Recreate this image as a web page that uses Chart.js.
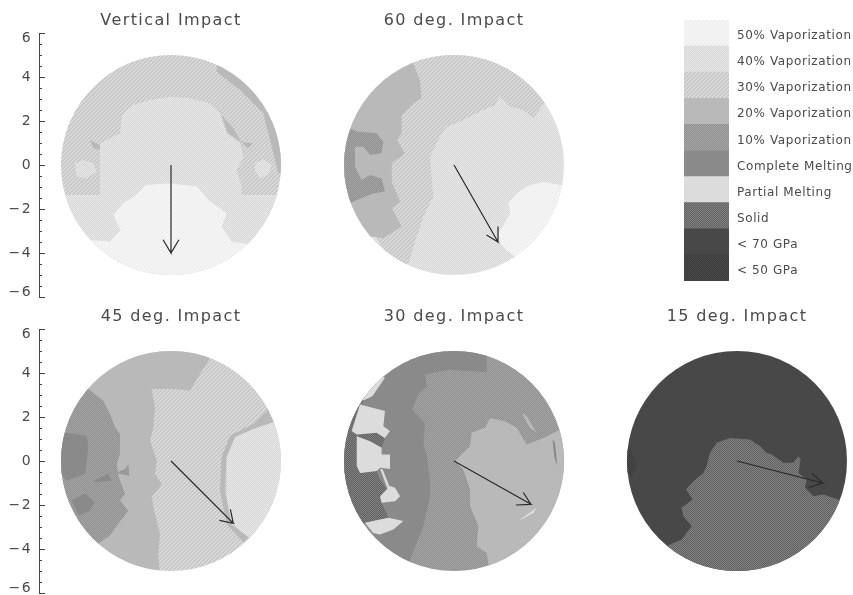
<!DOCTYPE html>
<html>
<head>
<meta charset="utf-8">
<title>Impact angle panels</title>
<script src="https://cdn.jsdelivr.net/npm/chart.js@4"></script>
<style>
  html, body { margin: 0; background: #fff; overflow: hidden; width: 853px; height: 595px; }
  canvas { position: absolute; }
</style>
</head>
<body>
<script>
// legend
const legendLabels = ['50% Vaporization', '40% Vaporization', '30% Vaporization', '20% Vaporization', '10% Vaporization',
  'Complete Melting', 'Partial Melting', 'Solid', '< 70 GPa', '< 50 GPa'];
const legendValues = [1, 1, 1, 1, 1, 1, 1, 1, 1, 1];
const majorTicks = [-6, -4, -2, 0, 2, 4, 6];

// region outlines in impact-plane units, clipped to the radius 5 disk when drawn
const fullPlane = [[-6, -6], [6, -6], [6, 6], [-6, 6]];

// vertical impact
const vertCrescent = [[2.08, 4.55], [2.3, 5.3], [4, 4], [5.5, 1], [5.5, -0.4], [4.88, -0.38], [4.58, 0.83], [4.2, 2.35], [3.14, 3.41], [2.08, 4.24]];
const vertBlob40 = [[-3.23, 0.98], [-2.32, 1.44], [-2.24, 2.2], [-1.71, 2.73], [-0.95, 2.95], [-0.05, 3.1], [0.86, 3.03], [1.77, 2.8], [2.23, 2.35], [2.38, 1.89], [2.53, 1.44], [3.14, 0.98], [3.29, 0.38], [2.98, -0.23], [3.21, -0.98], [3.21, -1.36], [5.5, -1.36], [5.5, -5.5], [-5.5, -5.5], [-5.5, -1.36], [-3.23, -1.36]];
const vertLeftSpot = [[-4.36, 0.08], [-3.98, 0.23], [-3.53, 0.08], [-3.38, -0.3], [-3.83, -0.61], [-4.29, -0.53]];
const vertRightSpot = [[3.82, 0.08], [4.2, 0.26], [4.58, 0], [4.42, -0.45], [4.05, -0.61], [3.82, -0.3]];
const vertPatchL = [[-3.68, 1.14], [-3.23, 0.91], [-3.23, 0.68], [-3.53, 0.76]];
const vertPatchR = [[3.21, 1.06], [3.74, 0.98], [3.5, 0.76]];
const vertPatchU = [[2.3, 2.27], [2.83, 1.67], [3.21, 1.02], [2.6, 1.44], [2.41, 1.89]];
const vertBlob50 = [[-2.62, -2.27], [-2.17, -1.74], [-1.71, -1.44], [-1.11, -0.91], [-0.05, -0.83], [1.17, -0.98], [1.7, -1.59], [2.53, -2.2], [2.3, -2.8], [2.76, -3.48], [3.74, -3.64], [5, -5.5], [-5, -5.5], [-3.68, -3.41], [-2.77, -3.48], [-2.29, -2.95]];
const vertArrow = [[0, 0], [0, -4], [-0.36, -3.4], [0, -4], [0.36, -3.4]];

// 60 deg
const deg60Hatch = [[-2.08, -4.47], [-1.7, -3.26], [-1.39, -2.35], [-0.94, -1.44], [-1.02, -0.53], [-1.09, 0.38], [-0.64, 1.29], [-0.33, 1.74], [0.42, 2.05], [1.03, 2.35], [1.86, 2.73], [2.09, 3.11], [2.55, 2.65], [3.15, 2.5], [3.61, 2.12], [3.98, 2.65], [4.21, 2.95], [5, 5], [-5, 5.5], [-5.5, 0], [-2.4, -5.2]];
const deg60Solid = [[-1.85, 4.62], [-1.55, 3.86], [-1.47, 3.03], [-1.85, 2.8], [-2.38, 2.27], [-2.38, 1.44], [-2.6, 1.14], [-2.23, 0.53], [-2.83, 0.08], [-2.83, -0.76], [-2.45, -1.67], [-2.83, -1.97], [-2.38, -2.8], [-3.21, -3.33], [-3.67, -3.26], [-5.5, -3.3], [-6, 0], [-4, 5], [-1.85, 5.5]];
const deg60Ring = [[-4.73, 1.67], [-4.42, 1.52], [-3.52, 1.44], [-3.21, 1.06], [-3.29, 0.53], [-3.82, 0.45], [-4.12, 0.83], [-4.5, 0.83], [-4.5, -0.08], [-4.2, -0.68], [-3.82, -0.45], [-3.29, -0.61], [-3.14, -1.21], [-3.67, -1.29], [-4.42, -1.59], [-4.73, -1.74], [-5.5, 0]];
const deg60Blob50 = [[2.47, -1.74], [2.85, -1.29], [3.3, -0.98], [4.06, -0.76], [4.82, -0.91], [5.5, -1], [5, -4], [3.2, -4.5], [2.85, -4.24], [2.39, -3.86], [2.02, -3.48], [2.02, -3.11], [2.55, -2.2]];
const deg60Arrow = [[0, 0], [2, -3.5], [1.48, -3.18], [2, -3.5], [2, -2.8]];

// 45 deg
const deg45Solid = [[1.77, 4.64], [1.32, 3.95], [0.86, 3.2], [0.11, 3.27], [-0.88, 3.27], [-0.73, 2.44], [-0.8, 1.53], [-0.95, 0.92], [-0.65, 0.02], [-0.73, -0.59], [-0.42, -1.05], [-0.88, -1.65], [-0.73, -2.41], [-0.5, -3.32], [-0.58, -4.23], [-0.5, -5.2], [-6, -5.5], [-6, 5.5], [2, 5.5]];
const deg45Ring = [[-3.76, 3.27], [-3.08, 2.74], [-2.77, 2.14], [-2.55, 1.53], [-2.32, 1.23], [-2.32, 0.32], [-2.47, -0.14], [-2.39, -0.67], [-2.09, -1.5], [-2.32, -1.8], [-1.94, -2.26], [-2.47, -2.94], [-2.77, -3.39], [-3.23, -3.7], [-5, -5], [-6, 0], [-5, 3.5]];
const deg45MeltA = [[-4.89, 1.3], [-3.83, 1.15], [-3.76, 0.62], [-3.91, -0.59], [-4.74, -0.89], [-5.5, 0], [-5.5, 1.3]];
const deg45MeltB = [[-3.53, -0.89], [-2.85, -0.59], [-2.7, -0.89], [-3.38, -0.97]];
const deg45MeltC = [[-4.52, -1.8], [-3.91, -1.47], [-3.47, -1.88], [-3.7, -2.26], [-4.21, -2.48]];
const deg45Speck = [[-2.47, -0.52], [-2.09, -0.36], [-1.94, -0.17], [-1.89, -0.67], [-2.32, -0.59]];
const deg45Strip = [[4.42, 2.36], [4.65, 1.76], [3.74, 1.45], [2.91, 1.08], [2.53, 0.17], [2.45, -1.35], [2.76, -2.86], [3.52, -3.47], [3.29, -3.7], [2.53, -2.86], [2.23, -1.35], [2.3, 0.17], [2.68, 1.15], [3.74, 1.68]];
const deg45Blob40 = [[2.91, 1.08], [3.74, 1.45], [4.65, 1.76], [5.5, 1.9], [5.5, -3], [3.52, -3.47], [2.76, -2.86], [2.5, -1.5], [2.53, 0.17]];
const deg45Arrow = [[0, 0], [2.83, -2.83], [2.2, -2.7], [2.83, -2.83], [2.7, -2.2]];

// 30 deg
const deg30Melt = [[1.48, 5.5], [1.48, 4.05], [-0.2, 4.15], [-1.32, 3.93], [-1.24, 3.4], [-1.62, 3.02], [-1.92, 2.34], [-1.32, 1.73], [-1.39, 0.83], [-1.24, 0.22], [-1.09, -0.84], [-1.09, -1.6], [-1.39, -2.96], [-2, -4.48], [-2.2, -5.5], [-6, -5.5], [-6, 5.5]];
const deg30Solid = [[0.05, 0], [0.42, 0.37], [0.73, 0.67], [0.8, 1.28], [1.41, 1.51], [1.64, 1.96], [2.32, 1.81], [2.85, 1.51], [3.3, 0.75], [4.06, 1.05], [4.82, 1.43], [5.6, 1.7], [5.6, -3], [3, -5.5], [1.5, -5.5], [1.56, -4.63], [1.48, -4.17], [1.03, -3.87], [1.11, -2.96], [0.73, -2.05], [0.73, -1.3], [0.42, -0.39]];
const deg30SliverA = [[3.08, 2.19], [3.3, 2.04], [3.76, 1.28], [3.45, 1.51]];
const deg30SliverB = [[4.48, 0.98], [4.59, 0.83], [4.7, -0.23], [4.55, 0.22]];
const deg30Streak = [[3, -2.66], [3.76, -2.13], [3.61, -2.36], [3.06, -2.66]];
const deg30Core = [[-3.89, 2.87], [-4.27, 2.57], [-4.65, 1.36], [-4.42, 1.2], [-3.52, 1.28], [-3.14, 1.05], [-3.29, 0.6], [-3.82, 0.9], [-4.42, 1.13], [-4.42, -0.23], [-4.27, -0.54], [-3.52, -0.46], [-3.36, -0.84], [-2.98, -1.37], [-3.36, -1.6], [-3.29, -1.9], [-2.98, -2.58], [-4.05, -2.81], [-5, -3.5], [-6, 0], [-5, 3]];
const deg30PartA = [[-3.14, 3.78], [-3.7, 2.95], [-4.1, 2.75], [-5, 3], [-4, 4.5]];
const deg30PartB = [[-4.27, 2.57], [-3.14, 2.27], [-3.21, 1.58], [-2.91, 1.36], [-3.14, 1.05], [-3.52, 1.28], [-4.42, 1.2], [-4.65, 1.36]];
const deg30PartC = [[-4.42, 1.13], [-3.82, 0.9], [-3.29, 0.6], [-3.29, 0.3], [-2.91, 0.3], [-2.91, -0.36], [-3.36, -0.31], [-3.52, -0.46], [-4.27, -0.54], [-4.42, -0.23]];
const deg30PartArc = [[-3.36, -0.35], [-3.24, -0.39], [-2.91, -1.22], [-2.98, -1.37]];
const deg30PartD = [[-3.36, -1.6], [-2.91, -1.14], [-2.68, -1.22], [-2.45, -1.6], [-2.68, -1.83], [-3.29, -1.9]];
const deg30PartE = [[-4.05, -2.81], [-2.98, -2.58], [-2.3, -2.73], [-2.76, -3.11], [-3.36, -3.34], [-3.67, -3.27]];
const deg30Arrow = [[0, 0], [3.5, -1.97], [2.82, -2], [3.5, -1.97], [3.15, -1.43]];

// 15 deg
const deg15Core = [[-3.05, -3.8], [-2.52, -3.57], [-2.06, -2.96], [-2.44, -2.51], [-2.52, -2.13], [-2.02, -1.75], [-2.32, -1.3], [-1.98, -0.92], [-1.53, -0.54], [-1.38, -0.23], [-1.23, 0.37], [-0.92, 0.83], [-0.32, 1.05], [0.59, 0.98], [1.05, 0.67], [1.35, 0.37], [1.58, 0.3], [2.11, -0.08], [2.56, -0.08], [2.79, 0.22], [2.89, 0.07], [2.79, -0.54], [3.17, -0.84], [3.09, -1.22], [3.47, -1.6], [3.92, -1.52], [4.61, -1.75], [5.6, -2], [4, -5.5], [-3, -5.5], [-4, -4.2]];
const deg15Edge = [[-4.86, 0.67], [-4.56, -0.23], [-4.79, -0.69], [-5.5, -0.1]];
const deg15Arrow = [[0, 0], [3.9, -1], [3.4, -0.55], [3.9, -1], [3.27, -1.2]];

// 4x4 tile, second colour laid on as diagonal hatch or as dots
function makeFill(base, alt, kind) {
  const tile = document.createElement('canvas');
  tile.width = tile.height = 4;
  const t = tile.getContext('2d');
  t.fillStyle = base;
  t.fillRect(0, 0, 4, 4);
  if (kind) {
    t.fillStyle = alt;
    for (let y = 0; y < 4; y++) {
      for (let x = 0; x < 4; x++) {
        const on = kind === 'hatch' ? (x + y) % 4 < 2 : (x + y) % 2 === 0;
        if (on) t.fillRect(x, y, 1, 1);
      }
    }
  }
  return t.createPattern(tile, 'repeat');
}

const fills = {
  v50: makeFill('#eeeeee', '#f6f6f6', 'hatch'),
  v40: makeFill('#d6d6d6', '#e8e8e8', 'dot'),
  v30: makeFill('#c6c6c6', '#dadada', 'hatch'),
  v20: makeFill('#b9b9b9'),
  v10: makeFill('#8f8f8f', '#a6a6a6', 'dot'),
  melt: makeFill('#8a8a8a'),
  partial: makeFill('#dcdcdc'),
  solid: makeFill('#626262', '#808080', 'dot'),
  gpa70: makeFill('#484848'),
  gpa50: makeFill('#383838', '#4c4c4c', 'dot')
};
const legendFills = [fills.v50, fills.v40, fills.v30, fills.v20, fills.v10, fills.melt, fills.partial, fills.solid, fills.gpa70, fills.gpa50];

const asPoints = pts => pts.map(p => ({ x: p[0], y: p[1] }));

// spaced out lettering, the original uses a wide plotter font
const spacing = px => ({
  id: 'spacing',
  beforeDraw: chart => { chart.ctx.letterSpacing = px; }
});

// move y axis labels a little, the end labels of the original sit inside the axis
const nudgeLabels = shift => ({
  id: 'nudgeLabels',
  beforeDraw(chart) {
    const yScale = chart.scales.y;
    if (!yScale.options.display) return;
    yScale.getLabelItems(chart.chartArea).forEach(item => {
      item.options.translation[1] += shift(item.label);
    });
  }
});

// keep everything inside the target disk
const diskClip = {
  id: 'diskClip',
  beforeDatasetsDraw(chart) {
    const { x, y } = chart.scales;
    const ctx = chart.ctx;
    ctx.save();
    ctx.beginPath();
    ctx.arc(x.getPixelForValue(0), y.getPixelForValue(0), Math.abs(x.getPixelForValue(5) - x.getPixelForValue(0)), 0, Math.PI * 2);
    ctx.clip();
  },
  afterDatasetsDraw(chart) { chart.ctx.restore(); }
};

// ticks point into the plot
const inwardTicks = {
  id: 'inwardTicks',
  afterDraw(chart) {
    const yScale = chart.scales.y;
    if (!yScale.options.display) return;
    const ctx = chart.ctx;
    ctx.save();
    ctx.strokeStyle = '#444';
    ctx.lineWidth = 1;
    yScale.ticks.forEach(tick => {
      const py = Math.round(yScale.getPixelForValue(tick.value)) + 0.5;
      const len = majorTicks.includes(tick.value) ? 6 : 3;
      ctx.beginPath();
      ctx.moveTo(chart.chartArea.left, py);
      ctx.lineTo(chart.chartArea.left + len, py);
      ctx.stroke();
    });
    ctx.restore();
  }
};

function addCanvas(left, top, width, height) {
  const canvas = document.createElement('canvas');
  canvas.width = width;
  canvas.height = height;
  canvas.style.left = left + 'px';
  canvas.style.top = top + 'px';
  document.body.appendChild(canvas);
  return canvas.getContext('2d');
}

function drawPanel(left, top, title, withAxis, regions, arrow) {
  const width = withAxis ? 342 : 264;
  const ctx = addCanvas(left, top, width, 309);
  const areas = regions.map((r, i) => ({
    data: asPoints(r[0]),
    showLine: true,
    fill: 'shape',
    tension: 0,
    backgroundColor: r[1],
    borderWidth: 0,
    pointRadius: 0,
    order: regions.length - i + 1
  }));
  areas.push({
    data: asPoints(arrow),
    showLine: true,
    fill: false,
    tension: 0,
    borderColor: '#2a2a2a',
    borderWidth: 1.2,
    pointRadius: 0,
    order: 0
  });
  const scales = {
    x: { type: 'linear', display: false, min: -6, max: 6 },
    y: {
      type: 'linear',
      display: withAxis,
      min: -6,
      max: 6,
      afterFit: scale => {
        scale.width = withAxis ? 39 : 0;
        scale.paddingTop = 0;
        scale.paddingBottom = 0;
      },
      grid: { display: false, drawTicks: false },
      border: { display: true, color: '#444', width: 1 },
      ticks: {
        stepSize: 0.5,
        autoSkip: false,
        padding: 7,
        color: '#4a4a4a',
        font: { family: '"DejaVu Sans"', size: 14 },
        callback: v => majorTicks.includes(v) ? String(v).replace('-', '\u2212') : ''
      }
    }
  };
  // empty box on the right so the title stays centred over the disk
  if (withAxis) {
    scales.pad = {
      type: 'linear',
      position: 'right',
      afterFit: scale => { scale.width = 39; scale.paddingTop = 0; scale.paddingBottom = 0; },
      grid: { display: false, drawTicks: false },
      border: { display: false },
      ticks: { display: false }
    };
  }
  new Chart(ctx, {
    type: 'scatter',
    data: { datasets: areas },
    options: {
      responsive: false,
      animation: false,
      events: [],
      layout: { padding: { bottom: 12 } },
      plugins: {
        legend: { display: false },
        tooltip: { enabled: false },
        title: {
          display: true,
          text: title,
          color: '#4a4a4a',
          font: { family: '"DejaVu Sans"', size: 16, weight: 'normal', lineHeight: 1.125 },
          padding: { top: 12, bottom: 3 }
        }
      },
      scales
    },
    plugins: [
      spacing('1.4px'),
      nudgeLabels(label => label === '6' ? 5 : label === '\u22126' ? -5 : 0),
      diskClip,
      inwardTicks
    ]
  });
}

drawPanel(0, 0, 'Vertical Impact', true, [
  [fullPlane, fills.v30], [vertCrescent, fills.v20], [vertBlob40, fills.v40], [vertLeftSpot, fills.v40],
  [vertRightSpot, fills.v40], [vertPatchL, fills.v20], [vertPatchR, fills.v20], [vertPatchU, fills.v20], [vertBlob50, fills.v50]
], vertArrow);

drawPanel(322, 0, '60 deg. Impact', false, [
  [fullPlane, fills.v40], [deg60Hatch, fills.v30], [deg60Solid, fills.v20], [deg60Ring, fills.v10], [deg60Blob50, fills.v50]
], deg60Arrow);

drawPanel(0, 296, '45 deg. Impact', true, [
  [fullPlane, fills.v30], [deg45Solid, fills.v20], [deg45Ring, fills.v10], [deg45MeltA, fills.melt], [deg45MeltB, fills.melt],
  [deg45MeltC, fills.melt], [deg45Speck, fills.v10], [deg45Strip, fills.v20], [deg45Blob40, fills.v40]
], deg45Arrow);

drawPanel(322, 296, '30 deg. Impact', false, [
  [fullPlane, fills.v10], [deg30Melt, fills.melt], [deg30Solid, fills.v20], [deg30SliverA, fills.v20], [deg30SliverB, fills.melt],
  [deg30Streak, fills.partial], [deg30Core, fills.solid], [deg30PartA, fills.partial], [deg30PartB, fills.partial],
  [deg30PartC, fills.partial], [deg30PartArc, fills.partial], [deg30PartD, fills.partial], [deg30PartE, fills.partial]
], deg30Arrow);

drawPanel(605, 296, '15 deg. Impact', false, [
  [fullPlane, fills.gpa70], [deg15Core, fills.solid], [deg15Edge, fills.gpa50]
], deg15Arrow);

// legend as a one column bar chart with the labels on its right axis
new Chart(addCanvas(684, 20, 169, 266), {
  type: 'bar',
  data: {
    labels: legendLabels,
    datasets: [{ data: legendValues, backgroundColor: legendFills, barPercentage: 1, categoryPercentage: 1, borderWidth: 0 }]
  },
  options: {
    indexAxis: 'y',
    responsive: false,
    animation: false,
    events: [],
    layout: { padding: { bottom: 5 } },
    plugins: { legend: { display: false }, tooltip: { enabled: false } },
    scales: {
      x: { display: false, min: 0, max: 1 },
      y: {
        position: 'right',
        afterFit: scale => { scale.width = 124; scale.paddingTop = 0; scale.paddingBottom = 0; },
        grid: { display: false, drawTicks: false },
        border: { display: false },
        ticks: {
          autoSkip: false,
          padding: 8,
          color: '#4a4a4a',
          font: { family: '"DejaVu Sans"', size: 12 }
        }
      }
    }
  },
  plugins: [spacing('0.6px'), nudgeLabels(() => 3)]
});
</script>
</body>
</html>
